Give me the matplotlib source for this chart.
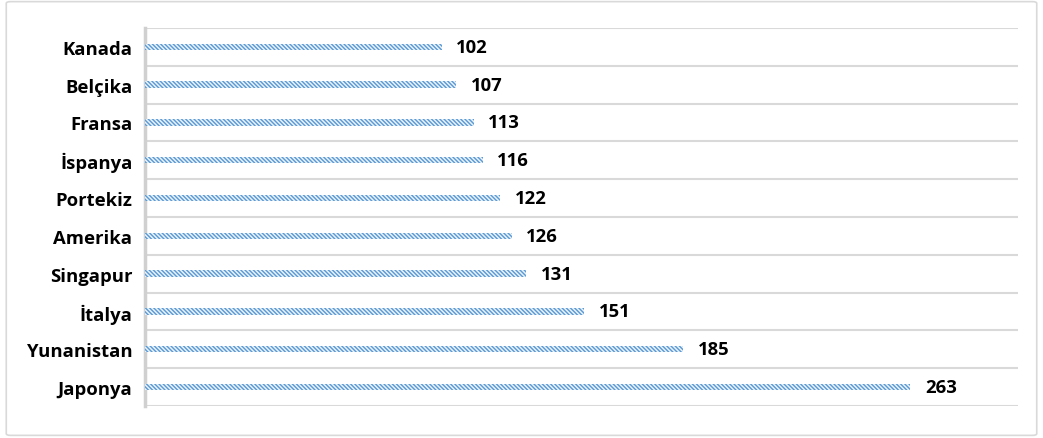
import matplotlib
matplotlib.use("Agg")
import matplotlib.pyplot as plt
from matplotlib.patches import FancyBboxPatch

categories = ["Kanada", "Belçika", "Fransa", "İspanya", "Portekiz", "Amerika",
              "Singapur", "İtalya", "Yunanistan", "Japonya"]
values = [102, 107, 113, 116, 122, 126, 131, 151, 185, 263]

plt.rcParams['font.family'] = ['Open Sans', 'DejaVu Sans']
plt.rcParams['hatch.linewidth'] = 1.05

fig = plt.figure(figsize=(10.43, 4.39), dpi=100)
border = FancyBboxPatch((0.006, 0.006), 0.988, 0.988, boxstyle="round,pad=0,rounding_size=0.004",
                        transform=fig.transFigure, facecolor='white', edgecolor='#d9d9d9',
                        linewidth=1.2, zorder=-10)
fig.patches.append(border)

ax = fig.add_axes([0.139, 0.073, 0.837, 0.861])
ax.set_facecolor('none')
y = list(range(len(categories)))
ax.barh(y, values, height=0.17, color='#eef4fb', edgecolor='#5B9BD5', linewidth=0,
        hatch='\\' * 8, zorder=3)
for yi, v in zip(y, values):
    ax.text(v + 5.0, yi, str(v), va='center', ha='left', fontsize=13.3,
            fontweight='bold', color='#000000')

ax.set_xlim(0, 300)
ax.set_ylim(len(categories) - 0.5, -0.5)
ax.set_yticks(y)
ax.set_yticklabels(categories, fontsize=13.3, fontweight='bold')
ax.tick_params(axis='y', length=0, pad=9)
ax.set_xticks([])
for yb in [i - 0.5 for i in range(len(categories) + 1)]:
    ax.axhline(yb, color='#d9d9d9', linewidth=1.5, zorder=1)
for s in ['top', 'right', 'bottom']:
    ax.spines[s].set_visible(False)
ax.spines['left'].set_color('#d0d0d0')
ax.spines['left'].set_linewidth(2.5)

fig.savefig('out.png', dpi=100)
